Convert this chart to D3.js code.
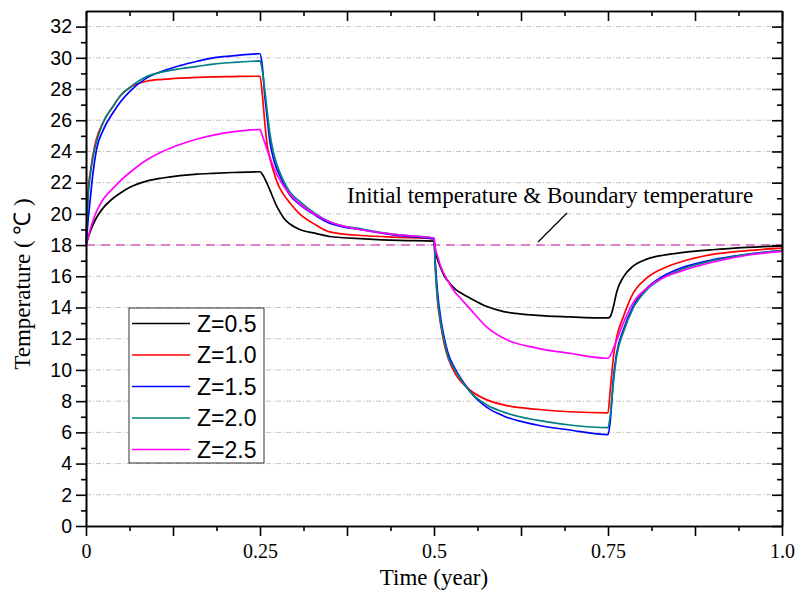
<!DOCTYPE html>
<html>
<head>
<meta charset="utf-8">
<script src="https://cdn.jsdelivr.net/npm/d3@7"></script>
<style>
body { margin: 0; background: #fff; }
svg { display: block; }
</style>
</head>
<body>
<div id="chart"></div>
<script>
// data (time in years, temperature in C)
var time = [0, 0.003, 0.006, 0.01, 0.015, 0.025, 0.039, 0.05, 0.063, 0.087, 0.11, 0.135, 0.16, 0.183, 0.21, 0.25,
    0.253, 0.257, 0.26, 0.264, 0.269, 0.274, 0.279, 0.283, 0.293, 0.307, 0.33, 0.35, 0.4, 0.45, 0.5,
    0.502, 0.505, 0.51, 0.515, 0.52, 0.53, 0.54, 0.552, 0.576, 0.6, 0.648, 0.695, 0.75,
    0.753, 0.758, 0.7625, 0.772, 0.786, 0.806, 0.829, 0.853, 0.9, 0.95, 1.0];

var z05 = [18, 18.45, 18.85, 19.3, 19.75, 20.4, 21.0, 21.35, 21.7, 22.1, 22.3, 22.45, 22.55, 22.6, 22.65, 22.7,
    22.55, 22.25, 21.95, 21.55, 21.0, 20.5, 20.1, 19.8, 19.35, 19.0, 18.75, 18.55, 18.4, 18.3, 18.25,
    17.6, 17.1, 16.5, 16.0, 15.7, 15.2, 14.9, 14.6, 14.06, 13.74, 13.5, 13.4, 13.33,
    13.4, 14.1, 15.0, 15.95, 16.65, 17.1, 17.35, 17.5, 17.7, 17.85, 17.95];

var z10 = [18, 21.5, 22.6, 23.8, 24.8, 25.9, 26.9, 27.6, 28.1, 28.5, 28.62, 28.7, 28.75, 28.78, 28.8, 28.82,
    27.8, 25.8, 24.5, 23.6, 22.8, 22.1, 21.6, 21.3, 20.7, 20.0, 19.3, 18.85, 18.6, 18.5, 18.4,
    16.5, 14.5, 12.8, 11.6, 10.8, 9.8, 9.2, 8.7, 8.08, 7.76, 7.48, 7.32, 7.25,
    8.6, 10.9, 12.1, 13.4, 14.9, 15.9, 16.5, 16.9, 17.4, 17.65, 17.8];

var z15 = [18, 19.6, 20.9, 22.6, 24.1, 25.4, 26.5, 27.2, 27.85, 28.7, 29.15, 29.5, 29.78, 30.0, 30.12, 30.26,
    29.6, 27.5, 26.3, 24.7, 23.6, 22.9, 22.4, 22.0, 21.2, 20.6, 19.9, 19.4, 18.95, 18.6, 18.4,
    16.8, 15.0, 13.2, 12.0, 11.1, 10.1, 9.35, 8.6, 7.6, 7.05, 6.47, 6.15, 5.85,
    6.6, 9.57, 11.07, 12.56, 14.06, 15.24, 16.0, 16.5, 17.05, 17.4, 17.65];

var z20 = [18, 21.0, 22.4, 23.6, 24.6, 25.9, 26.9, 27.6, 28.1, 28.8, 29.1, 29.3, 29.45, 29.6, 29.7, 29.8,
    29.3, 27.9, 26.7, 25.2, 24.0, 23.2, 22.6, 22.2, 21.4, 20.8, 20.0, 19.5, 19.0, 18.65, 18.45,
    16.4, 14.6, 12.9, 11.8, 10.9, 10.0, 9.3, 8.6, 7.75, 7.3, 6.78, 6.47, 6.3,
    7.0, 9.3, 10.9, 12.4, 13.95, 15.15, 15.9, 16.4, 17.0, 17.4, 17.65];

var z25 = [18, 18.5, 19.0, 19.55, 20.15, 20.95, 21.65, 22.15, 22.65, 23.45, 24.0, 24.45, 24.8, 25.05, 25.25, 25.4,
    25.05, 24.55, 24.15, 23.65, 23.05, 22.55, 22.15, 21.85, 21.25, 20.65, 19.95, 19.5, 18.95, 18.65, 18.45,
    17.8, 17.3, 16.6, 16.1, 15.7, 15.0, 14.5, 13.9, 12.75, 12.03, 11.4, 11.07, 10.75,
    10.9, 11.4, 11.9, 13.0, 14.3, 15.24, 15.9, 16.3, 16.9, 17.35, 17.6];

var seriesNames = ["Z=0.5", "Z=1.0", "Z=1.5", "Z=2.0", "Z=2.5"];
var seriesValues = [z05, z10, z15, z20, z25];
var seriesColors = ["#000000", "#ff0000", "#0000ff", "#008080", "#ff00ff"];

var boundaryTemp = 18;
var xTickLabels = ["0", "0.25", "0.5", "0.75", "1.0"];

var w = 795;
var h = 591;
// plot box edges ("top" is taken by window.top, so prefix them)
var pLeft = 86, pRight = 782, pTop = 11, pBottom = 526;

var svg = d3.select("#chart").append("svg")
    .attr("width", w)
    .attr("height", h);

var x = d3.scaleLinear().domain([0, 1]).range([pLeft, pRight]);
var y = d3.scaleLinear().domain([0, 33]).range([pBottom, pTop]);

// horizontal grid
svg.append("g")
    .selectAll("line")
    .data(d3.range(2, 33, 2))
    .enter().append("line")
    .attr("x1", pLeft).attr("x2", pRight)
    .attr("y1", function(d) { return y(d); })
    .attr("y2", function(d) { return y(d); })
    .attr("stroke", "#c4c4c4")
    .attr("stroke-width", 1)
    .attr("stroke-dasharray", "5,2,1,2");

// initial / boundary temperature line
svg.append("line")
    .attr("x1", x(0)).attr("x2", x(1))
    .attr("y1", y(boundaryTemp)).attr("y2", y(boundaryTemp))
    .attr("stroke", "#e05cc0")
    .attr("stroke-width", 1.5)
    .attr("stroke-dasharray", "9,6");

var line = d3.line()
    .x(function(d) { return x(d[0]); })
    .y(function(d) { return y(d[1]); })
    .curve(d3.curveMonotoneX);

seriesValues.forEach(function(vals, i) {
    svg.append("path")
        .datum(time.map(function(t, j) { return [t, vals[j]]; }))
        .attr("d", line)
        .attr("fill", "none")
        .attr("stroke", seriesColors[i])
        .attr("stroke-width", 1.7);
});

// axes
var xMajor = d3.range(0, 1.0001, 0.125);
var xMinor = d3.range(0.0625, 1, 0.125);
var yMajor = d3.range(0, 33, 2);
var yMinor = d3.range(1, 33, 2);

var styleAxis = function(g) {
    g.select(".domain").attr("stroke", "#000").attr("stroke-width", 1.6);
    g.selectAll(".tick line").attr("stroke", "#000").attr("stroke-width", 1.6);
};

svg.append("g")
    .attr("transform", "translate(0," + pBottom + ")")
    .call(d3.axisBottom(x).tickValues(xMinor).tickSize(5).tickSizeOuter(0).tickFormat(""))
    .call(styleAxis);
svg.append("g")
    .attr("transform", "translate(0," + pBottom + ")")
    .call(d3.axisBottom(x).tickValues(xMajor).tickSize(10).tickSizeOuter(0).tickPadding(8)
        .tickFormat(function(d) {
            var k = Math.round(d / 0.25);
            return Math.abs(d - k * 0.25) < 1e-9 ? xTickLabels[k] : "";
        }))
    .call(styleAxis)
    .selectAll("text")
    .attr("font-family", "Liberation Serif, Times New Roman, serif")
    .attr("font-size", 20)
    .attr("fill", "#000");

svg.append("g")
    .attr("transform", "translate(0," + pTop + ")")
    .call(d3.axisTop(x).tickValues(xMinor).tickSize(-5).tickSizeOuter(0).tickFormat(""))
    .call(styleAxis);
svg.append("g")
    .attr("transform", "translate(0," + pTop + ")")
    .call(d3.axisTop(x).tickValues(xMajor).tickSize(-10).tickSizeOuter(0).tickFormat(""))
    .call(styleAxis);

svg.append("g")
    .attr("transform", "translate(" + pLeft + ",0)")
    .call(d3.axisLeft(y).tickValues(yMinor).tickSize(5).tickSizeOuter(0).tickFormat(""))
    .call(styleAxis);
svg.append("g")
    .attr("transform", "translate(" + pLeft + ",0)")
    .call(d3.axisLeft(y).tickValues(yMajor).tickSize(10).tickSizeOuter(0).tickPadding(4).tickFormat(d3.format("d")))
    .call(styleAxis)
    .selectAll("text")
    .attr("font-family", "Liberation Sans, Arial, sans-serif")
    .attr("font-size", 19.5)
    .attr("fill", "#000");

svg.append("g")
    .attr("transform", "translate(" + pRight + ",0)")
    .call(d3.axisRight(y).tickValues(yMinor).tickSize(-5).tickSizeOuter(0).tickFormat(""))
    .call(styleAxis);
svg.append("g")
    .attr("transform", "translate(" + pRight + ",0)")
    .call(d3.axisRight(y).tickValues(yMajor).tickSize(-10).tickSizeOuter(0).tickFormat(""))
    .call(styleAxis);

// axis titles
svg.append("text")
    .attr("x", (pLeft + pRight) / 2)
    .attr("y", 585)
    .attr("text-anchor", "middle")
    .attr("font-family", "Liberation Serif, Times New Roman, serif")
    .attr("font-size", 23)
    .text("Time (year)");

svg.append("text")
    .attr("transform", "translate(30,284)rotate(-90)")
    .attr("text-anchor", "middle")
    .attr("font-family", "Liberation Serif, Times New Roman, serif")
    .attr("font-size", 23)
    .text("Temperature ( \u2103 )");

// annotation
svg.append("text")
    .attr("x", 347)
    .attr("y", 203)
    .attr("font-family", "Liberation Serif, Times New Roman, serif")
    .attr("font-size", 23)
    .text("Initial temperature & Boundary temperature");

svg.append("line")
    .attr("x1", 538).attr("y1", 242)
    .attr("x2", 567).attr("y2", 213)
    .attr("stroke", "#000")
    .attr("stroke-width", 1.3);

// legend
var legend = svg.append("g").attr("transform", "translate(129,308)");
legend.append("rect")
    .attr("width", 135)
    .attr("height", 155)
    .attr("fill", "#fff")
    .attr("stroke", "#333")
    .attr("stroke-width", 1);

var rows = legend.selectAll("g.row")
    .data(seriesNames)
    .enter().append("g")
    .attr("class", "row")
    .attr("transform", function(d, i) { return "translate(0," + (15.5 + i * 31.5) + ")"; });

rows.append("line")
    .attr("x1", 3).attr("x2", 61)
    .attr("stroke", function(d, i) { return seriesColors[i]; })
    .attr("stroke-width", 1.7);

rows.append("text")
    .attr("x", 68)
    .attr("dy", "0.36em")
    .attr("font-family", "Liberation Sans, Arial, sans-serif")
    .attr("font-size", 23)
    .text(function(d) { return d; });
</script>
</body>
</html>
